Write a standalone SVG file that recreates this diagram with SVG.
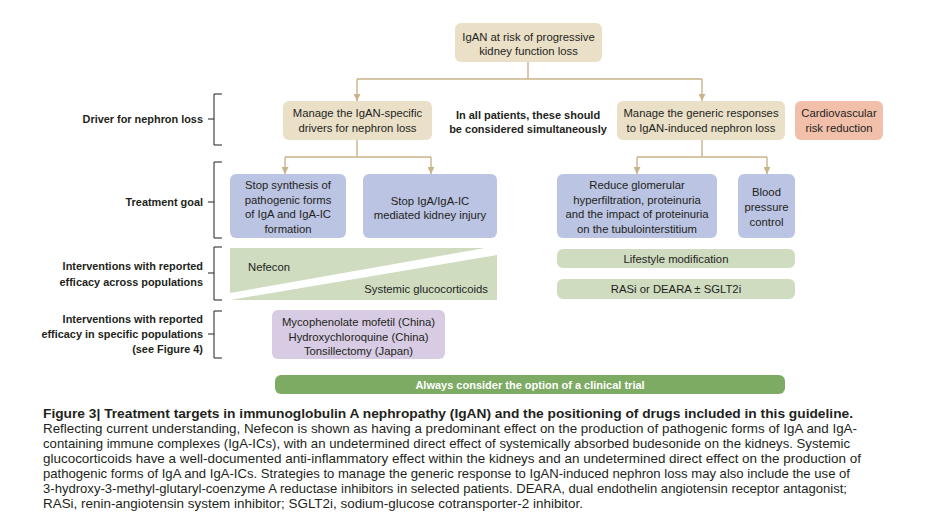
<svg xmlns="http://www.w3.org/2000/svg" width="942" height="532" viewBox="0 0 942 532">
<defs>
<style>
.t{font-family:"Liberation Sans",Arial,sans-serif;font-size:11.3px;fill:#231f20;text-anchor:middle}
.b{font-family:"Liberation Sans",Arial,sans-serif;font-size:10.9px;font-weight:bold;fill:#231f20;text-anchor:end}
.m{font-family:"Liberation Sans",Arial,sans-serif;font-size:11px;font-weight:bold;fill:#231f20;text-anchor:middle}
.cap{font-family:"Liberation Sans",Arial,sans-serif;font-size:13px;fill:#231f20}
.capb{font-family:"Liberation Sans",Arial,sans-serif;font-size:13px;font-weight:bold;fill:#231f20}
.tan{fill:#eadfc7}
.blue{fill:#bbc4e3}
.lg{fill:#cfdcc0}
.pur{fill:#d7cce3}
.dg{fill:#7dab63}
.sal{fill:#f2bfab}
.con{fill:none;stroke:#c9b38a;stroke-width:1.4}
.br{fill:none;stroke:#231f20;stroke-width:1}
</style>
<marker id="ah" viewBox="0 0 10 10" refX="10" refY="5" markerWidth="7" markerHeight="7" markerUnits="userSpaceOnUse" orient="auto">
<path d="M0,0 L10,5 L0,10 z" fill="#c9b38a"/>
</marker>
</defs>
<rect width="942" height="532" fill="#ffffff"/>

<g id="connectors">
<path class="con" d="M528,62 V79 M357,79 H702"/>
<path class="con" d="M357,79 V101" marker-end="url(#ah)"/>
<path class="con" d="M702,79 V101" marker-end="url(#ah)"/>
<path class="con" d="M357,140 V157 M285,157 H431"/>
<path class="con" d="M285,157 V174" marker-end="url(#ah)"/>
<path class="con" d="M431,157 V174" marker-end="url(#ah)"/>
<path class="con" d="M702,140 V157 M637,157 H767"/>
<path class="con" d="M637,157 V174" marker-end="url(#ah)"/>
<path class="con" d="M767,157 V174" marker-end="url(#ah)"/>
</g>

<g id="brackets">
<path class="br" d="M222,94 H214 V145 H222 M208,119 H214"/>
<path class="br" d="M222,162 H214 V238 H222 M208,202 H214"/>
<path class="br" d="M222,247 H214 V300 H222 M208,273 H214"/>
<path class="br" d="M222,311 H214 V358 H222 M208,334 H214"/>
</g>

<g id="row-labels">
<text class="b" x="203" y="123">Driver for nephron loss</text>
<text class="b" x="203" y="206">Treatment goal</text>
<text class="b" x="203" y="270">Interventions with reported</text>
<text class="b" x="203" y="286">efficacy across populations</text>
<text class="b" x="203" y="323">Interventions with reported</text>
<text class="b" x="203" y="338">efficacy in specific populations</text>
<text class="b" x="203" y="353">(see Figure 4)</text>
</g>

<g id="node-top">
<rect class="tan" x="455" y="23" width="147" height="39" rx="6"/>
<text class="t" x="528.5" y="41">IgAN at risk of progressive</text>
<text class="t" x="528.5" y="54.5">kidney function loss</text>
</g>

<g id="node-specific">
<rect class="tan" x="283" y="101" width="149" height="39" rx="6"/>
<text class="t" x="357.5" y="117">Manage the IgAN-specific</text>
<text class="t" x="357.5" y="132">drivers for nephron loss</text>
</g>

<g id="note-simultaneous">
<text class="m" x="528" y="119">In all patients, these should</text>
<text class="m" x="528" y="133">be considered simultaneously</text>
</g>

<g id="node-generic">
<rect class="tan" x="617" y="101" width="168" height="39" rx="6"/>
<text class="t" x="701" y="117">Manage the generic responses</text>
<text class="t" x="701" y="132">to IgAN-induced nephron loss</text>
</g>

<g id="node-cardio">
<rect class="sal" x="795" y="101" width="88" height="39" rx="6"/>
<text class="t" x="839" y="117">Cardiovascular</text>
<text class="t" x="839" y="132">risk reduction</text>
</g>

<g id="goal-synthesis">
<rect class="blue" x="230" y="174" width="116" height="64" rx="6"/>
<text class="t" x="288" y="189">Stop synthesis of</text>
<text class="t" x="288" y="204">pathogenic forms</text>
<text class="t" x="288" y="218">of IgA and IgA-IC</text>
<text class="t" x="288" y="233">formation</text>
</g>

<g id="goal-injury">
<rect class="blue" x="363" y="174" width="134" height="64" rx="6"/>
<text class="t" x="430" y="205">Stop IgA/IgA-IC</text>
<text class="t" x="430" y="219">mediated kidney injury</text>
</g>

<g id="goal-reduce">
<rect class="blue" x="557" y="174" width="160" height="64" rx="6"/>
<text class="t" x="637" y="189">Reduce glomerular</text>
<text class="t" x="637" y="204">hyperfiltration, proteinuria</text>
<text class="t" x="637" y="218">and the impact of proteinuria</text>
<text class="t" x="637" y="233">on the tubulointerstitium</text>
</g>

<g id="goal-bp">
<rect class="blue" x="738" y="174" width="57" height="64" rx="6"/>
<text class="t" x="766.5" y="196">Blood</text>
<text class="t" x="766.5" y="211">pressure</text>
<text class="t" x="766.5" y="226">control</text>
</g>

<g id="interventions-wedge">
<polygon class="lg" points="230,248 485,248 230,293"/>
<polygon class="lg" points="230,300 497,300 497,255"/>
<text class="t" x="248" y="271" style="text-anchor:start">Nefecon</text>
<text class="t" x="488" y="293" style="text-anchor:end">Systemic glucocorticoids</text>
</g>

<g id="node-lifestyle">
<rect class="lg" x="557" y="249" width="238" height="19" rx="6"/>
<text class="t" x="676" y="263">Lifestyle modification</text>
</g>

<g id="node-rasi">
<rect class="lg" x="557" y="279" width="238" height="20" rx="6"/>
<text class="t" x="676" y="293">RASi or DEARA ± SGLT2i</text>
</g>

<g id="node-specific-pop">
<rect class="pur" x="272" y="310" width="173" height="49" rx="6"/>
<text class="t" x="358.5" y="326">Mycophenolate mofetil (China)</text>
<text class="t" x="358.5" y="341">Hydroxychloroquine (China)</text>
<text class="t" x="358.5" y="355">Tonsillectomy (Japan)</text>
</g>

<g id="node-trial">
<rect class="dg" x="275" y="375" width="510" height="19" rx="6"/>
<text class="m" x="530" y="389" style="fill:#ffffff">Always consider the option of a clinical trial</text>
</g>

<g id="caption">
<text class="capb" x="43" y="418" textLength="810" lengthAdjust="spacingAndGlyphs">Figure 3| Treatment targets in immunoglobulin A nephropathy (IgAN) and the positioning of drugs included in this guideline.</text>
<text class="cap" x="43" y="433" textLength="814" lengthAdjust="spacingAndGlyphs">Reflecting current understanding, Nefecon is shown as having a predominant effect on the production of pathogenic forms of IgA and IgA-</text>
<text class="cap" x="43" y="448" textLength="807" lengthAdjust="spacingAndGlyphs">containing immune complexes (IgA-ICs), with an undetermined direct effect of systemically absorbed budesonide on the kidneys. Systemic</text>
<text class="cap" x="43" y="463" textLength="818" lengthAdjust="spacingAndGlyphs">glucocorticoids have a well-documented anti-inflammatory effect within the kidneys and an undetermined direct effect on the production of</text>
<text class="cap" x="43" y="478" textLength="807" lengthAdjust="spacingAndGlyphs">pathogenic forms of IgA and IgA-ICs. Strategies to manage the generic response to IgAN-induced nephron loss may also include the use of</text>
<text class="cap" x="43" y="493" textLength="804" lengthAdjust="spacingAndGlyphs">3-hydroxy-3-methyl-glutaryl-coenzyme A reductase inhibitors in selected patients. DEARA, dual endothelin angiotensin receptor antagonist;</text>
<text class="cap" x="43" y="508" textLength="540" lengthAdjust="spacingAndGlyphs">RASi, renin-angiotensin system inhibitor; SGLT2i, sodium-glucose cotransporter-2 inhibitor.</text>
</g>
</svg>
